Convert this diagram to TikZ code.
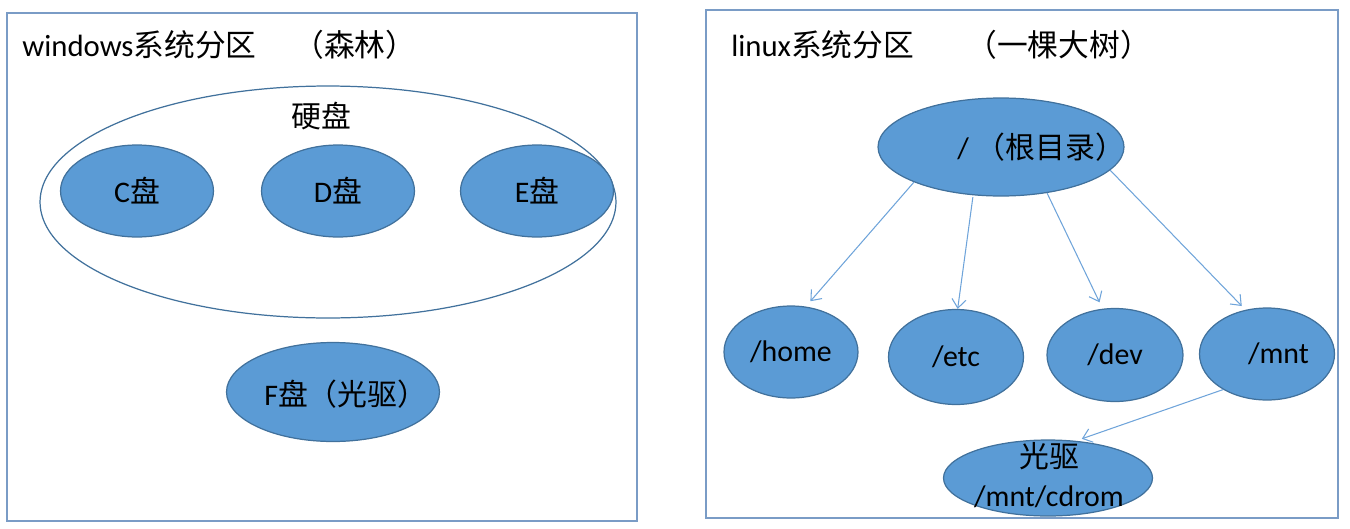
\documentclass[tikz,border=0pt]{standalone}
\usepackage{fontspec}
\setmainfont{Carlito}
\newfontfamily\zh{Noto Sans CJK SC}
\usetikzlibrary{shapes.geometric}
\usetikzlibrary{arrows.meta}
\usepackage{xcolor}
\definecolor{diskfill}{HTML}{5B9BD5}
\definecolor{diskline}{HTML}{41719C}
\definecolor{framecol}{HTML}{7A9CC6}
\definecolor{linkcol}{HTML}{6FA4DA}

\begin{document}
\begin{tikzpicture}[x=0.02cm,y=-0.02cm,
  disk/.style={ellipse,draw=diskline,fill=diskfill,line width=0.7pt,inner sep=0pt,font=\fontsize{17}{21}\selectfont},
  lbl/.style={font=\fontsize{17}{21}\selectfont},
  title/.style={anchor=west,inner sep=0pt,font=\fontsize{17.5}{21}\selectfont},
  link/.style={draw=linkcol,line width=0.6pt,-{Straight Barb[length=5pt,width=8pt]}}]
\useasboundingbox (0,0) rectangle (1350,528);
\draw [framecol, line width=0.8pt] (7,13) rectangle (637,521);
\draw [framecol, line width=0.8pt] (706,10) rectangle (1338,518);
% windows
\node [title] (wtitle) at (22,45) {windows{\zh 系统分区}};
\node [title] (wnote) at (293,45) {\zh （森林）};
\node [ellipse, draw=diskline, line width=0.7pt, minimum width=11.52cm, minimum height=4.64cm] (hdd) at (328,202) {};
\node [lbl] (hddtxt) at (321,116) {\zh 硬盘};
\node [disk, minimum width=3.06cm, minimum height=1.84cm] (cdisk) at (137,191) {C{\zh 盘}};
\node [disk, minimum width=3.06cm, minimum height=1.84cm] (ddisk) at (338,191) {D{\zh 盘}};
\node [disk, minimum width=3.06cm, minimum height=1.84cm] (edisk) at (537,191) {E{\zh 盘}};
\node [disk, minimum width=4.26cm, minimum height=1.98cm] (fdisk) at (333,392) {};
\node [lbl, anchor=west, inner sep=0pt] (fdisktxt) at (264,394) {F{\zh 盘（光驱）}};
% linux
\node [title] (ltitle) at (731,45) {linux{\zh 系统分区}};
\node [title] (lnote) at (966,45) {\zh （一棵大树）};
\node [disk, minimum width=4.92cm, minimum height=1.96cm] (root) at (1001,147) {};
\node [lbl, anchor=west, inner sep=0pt] (roottxt) at (957,147) {/ {\zh （根目录）}};
\node [disk, minimum width=2.68cm, minimum height=1.84cm] (home) at (791,352) {\raisebox{-2pt}{/home}};
\node [disk, minimum width=2.70cm, minimum height=1.90cm] (etc) at (956,357) {/etc};
\node [disk, minimum width=2.72cm, minimum height=1.86cm] (dev) at (1115,355) {/dev};
\node [disk, minimum width=2.70cm, minimum height=1.84cm] (mnt) at (1267,354) {\hspace{13pt}/mnt};
\node [disk, minimum width=4.18cm, minimum height=1.52cm] (cdrom) at (1048,478) {};
\node [lbl, align=center] (cdromtxt) at (1049,475) {{\zh 光驱}\\[1pt]/mnt/cdrom};
\draw [link, shorten >=4pt] (root.202) -- (home.72);
\draw [link, shorten <=1pt] (root.240) -- (etc.88);
\draw [link, shorten >=4pt] (root.315) -- (dev.105);
\draw [link, shorten >=3pt] (root.348) -- (mnt.116);
\draw [link, shorten >=3.5pt] (mnt.219) -- (cdrom.53);
\end{tikzpicture}
\end{document}
